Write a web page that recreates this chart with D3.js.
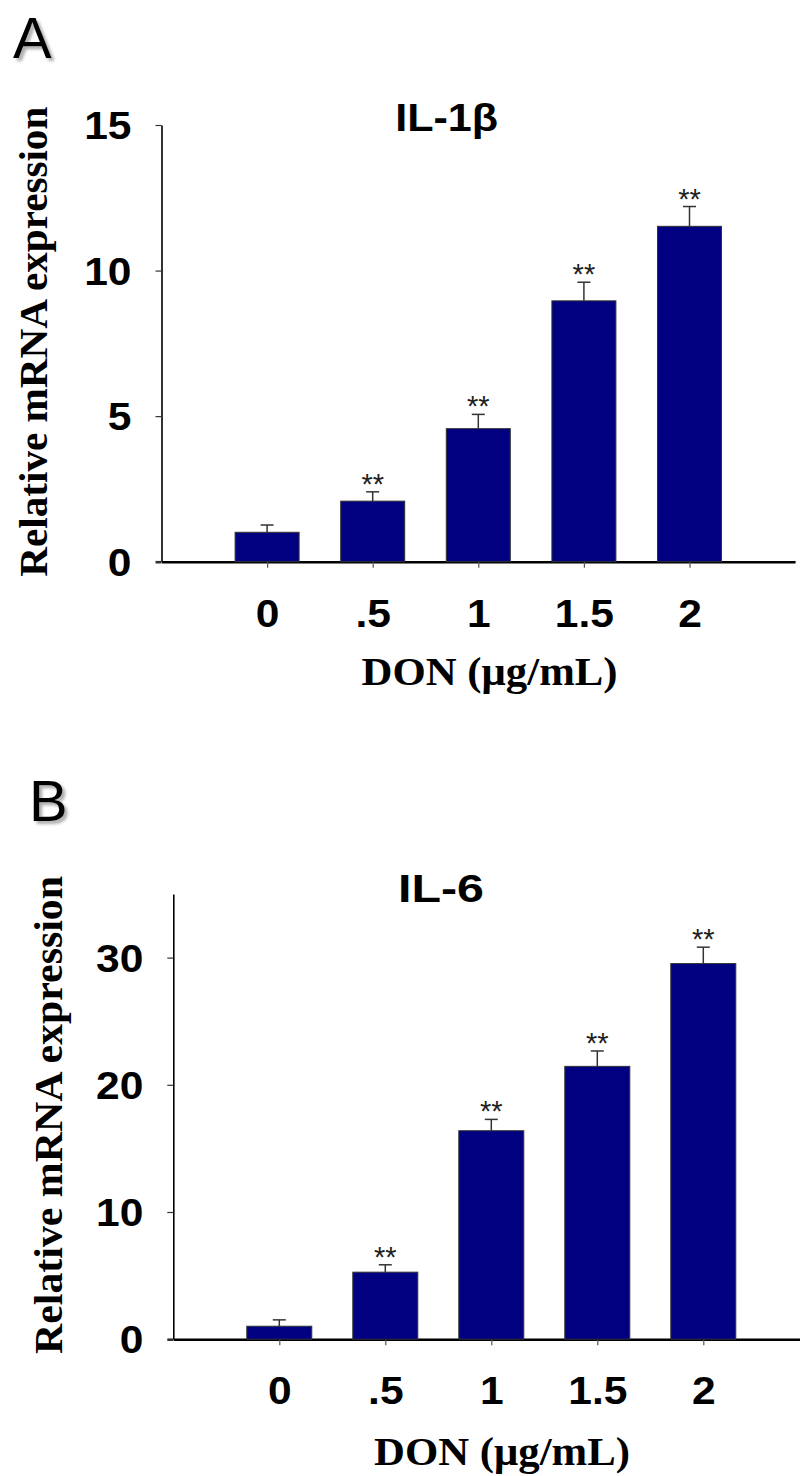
<!DOCTYPE html>
<html>
<head>
<meta charset="utf-8">
<script src="https://cdn.jsdelivr.net/npm/d3@7"></script>
<style>
  body { margin: 0; background: #fff; }
  svg { display: block; }
</style>
</head>
<body>
<svg id="chart"></svg>
<script>
(function() {

    // Data
    const doses = ['0', '.5', '1', '1.5', '2'];

    const il1b = [1.01, 2.08, 4.57, 8.96, 11.52];
    const il1bErr = [0.25, 0.32, 0.49, 0.64, 0.68];
    const il1bSig = ['', '**', '**', '**', '**'];
    const il1bTicks = [0, 5, 10, 15];

    const il6 = [1.02, 5.27, 16.39, 21.45, 29.53];
    const il6Err = [0.50, 0.58, 0.89, 1.21, 1.29];
    const il6Sig = ['', '**', '**', '**', '**'];
    const il6Ticks = [0, 10, 20, 30];

    const w = 800;
    const h = 1476;
    const stretch = 1.12; // tick labels look a bit wide in the original

    const svg = d3.select('#chart')
        .attr('width', w)
        .attr('height', h);

    // Drop shadow for the panel letters
    const filter = svg.append('defs').append('filter')
        .attr('id', 'shadow')
        .attr('x', '-20%').attr('y', '-20%')
        .attr('width', '150%').attr('height', '150%');
    filter.append('feDropShadow')
        .attr('dx', 3).attr('dy', 3)
        .attr('stdDeviation', 1.5)
        .attr('flood-color', '#777')
        .attr('flood-opacity', 0.6);

    const drawPanel = (opt) => {

        const g = svg.append('g');

        // Scales
        const y = d3.scaleLinear()
            .domain([0, opt.yMax])
            .range([opt.y0, opt.yTop]);

        // index 1..5 are the doses, 0 and 6 are empty slots
        const x = d3.scaleLinear()
            .domain([0, 6])
            .range([opt.x0, opt.x0 + 6 * opt.step]);

        const rows = opt.values.map((v, i) => ({
            cat: doses[i], i: i + 1, v: v, e: opt.errs[i], s: opt.sig[i]
        }));

        // Y axis
        const yAxis = d3.axisLeft(y)
            .tickValues(opt.ticks)
            .tickSizeInner(6)
            .tickSizeOuter(0)
            .tickPadding(0);

        const gy = g.append('g')
            .attr('transform', `translate(${opt.x0}, 0)`)
            .call(yAxis);

        gy.select('.domain').attr('stroke', '#000').attr('stroke-width', 1.6);
        gy.selectAll('.tick line')
            .attr('stroke', '#333')
            .attr('stroke-width', d => d === 0 ? 2.6 : 1.2);
        gy.selectAll('.tick text')
            .attr('font-family', '"Liberation Sans", Arial, sans-serif')
            .attr('font-weight', 'bold')
            .attr('font-size', 38)
            .attr('fill', '#000')
            .attr('x', -30 / stretch)
            .attr('dy', '0.36em')
            .attr('transform', `scale(${stretch},1)`);

        // X axis
        const xAxis = d3.axisBottom(x)
            .tickValues(d3.range(1, 6))
            .tickFormat(i => doses[i - 1])
            .tickSizeInner(6)
            .tickSizeOuter(0);

        const gx = g.append('g')
            .attr('transform', `translate(0, ${opt.y0})`)
            .call(xAxis);

        gx.select('.domain').attr('stroke', '#000').attr('stroke-width', 2.6);
        gx.selectAll('.tick line').attr('stroke', '#555').attr('stroke-width', 1.2);
        gx.selectAll('.tick text')
            .attr('font-family', '"Liberation Sans", Arial, sans-serif')
            .attr('font-weight', 'bold')
            .attr('font-size', 38)
            .attr('fill', '#000')
            .attr('y', 65)
            .attr('dy', 0)
            .attr('transform', `scale(${stretch},1)`);

        // Bars
        g.selectAll('rect.bar')
            .data(rows)
            .enter()
            .append('rect')
            .attr('class', 'bar')
            .attr('x', d => x(d.i) - opt.barW / 2)
            .attr('y', d => y(d.v))
            .attr('width', opt.barW)
            .attr('height', d => y(0) - y(d.v))
            .attr('fill', '#000080')
            .attr('stroke', '#333')
            .attr('stroke-width', 1);

        // Error bars (upper only)
        const err = g.selectAll('g.err')
            .data(rows)
            .enter()
            .append('g')
            .attr('class', 'err')
            .attr('stroke', '#333')
            .attr('stroke-width', 1.5);

        err.append('line')
            .attr('x1', d => x(d.i))
            .attr('x2', d => x(d.i))
            .attr('y1', d => y(d.v))
            .attr('y2', d => y(d.v + d.e));

        err.append('line')
            .attr('x1', d => x(d.i) - 6.5)
            .attr('x2', d => x(d.i) + 6.5)
            .attr('y1', d => y(d.v + d.e))
            .attr('y2', d => y(d.v + d.e));

        // Significance marks
        g.selectAll('text.sig')
            .data(rows)
            .enter()
            .append('text')
            .attr('class', 'sig')
            .attr('x', d => x(d.i))
            .attr('y', d => y(d.v + d.e) + 2)
            .attr('text-anchor', 'middle')
            .attr('font-family', '"Liberation Sans", Arial, sans-serif')
            .attr('font-size', 29)
            .attr('fill', '#222')
            .text(d => d.s);

        // Panel title
        g.append('text')
            .attr('x', opt.titleX)
            .attr('y', opt.titleY)
            .attr('text-anchor', 'middle')
            .attr('font-family', '"Liberation Sans", Arial, sans-serif')
            .attr('font-weight', 'bold')
            .attr('font-size', 38)
            .attr('textLength', opt.titleLen)
            .attr('lengthAdjust', 'spacingAndGlyphs')
            .text(opt.title);

        // Y axis title
        g.append('text')
            .attr('transform', `translate(${opt.yLabX}, ${opt.yLabY}) rotate(-90)`)
            .attr('text-anchor', 'middle')
            .attr('font-family', '"Liberation Serif", "Times New Roman", serif')
            .attr('font-weight', 'bold')
            .attr('font-size', 41)
            .attr('textLength', opt.yLabLen)
            .attr('lengthAdjust', 'spacingAndGlyphs')
            .text('Relative mRNA expression');

        // X axis title
        g.append('text')
            .attr('x', opt.xLabX)
            .attr('y', opt.xLabY)
            .attr('text-anchor', 'middle')
            .attr('font-family', '"Liberation Serif", "Times New Roman", serif')
            .attr('font-weight', 'bold')
            .attr('font-size', 40)
            .attr('textLength', 256)
            .attr('lengthAdjust', 'spacingAndGlyphs')
            .text('DON (μg/mL)');

        // Panel letter
        g.append('text')
            .attr('x', opt.letterX)
            .attr('y', opt.letterY)
            .attr('font-family', '"Liberation Sans", Arial, sans-serif')
            .attr('font-size', 58)
            .attr('fill', '#000')
            .attr('filter', 'url(#shadow)')
            .text(opt.letter);
    };

    // Panel A: IL-1β
    drawPanel({
        values: il1b, errs: il1bErr, sig: il1bSig, ticks: il1bTicks,
        yMax: 15, y0: 561.7, yTop: 125,
        x0: 161.5, step: 105.6, barW: 64,
        title: 'IL-1β', titleX: 446.7, titleY: 131, titleLen: 103,
        yLabX: 47, yLabY: 341.7, yLabLen: 470,
        xLabX: 489.6, xLabY: 685,
        letter: 'A', letterX: 13, letterY: 58
    });

    // Panel B: IL-6
    drawPanel({
        values: il6, errs: il6Err, sig: il6Sig, ticks: il6Ticks,
        yMax: 35, y0: 1339.2, yTop: 894,
        x0: 173.3, step: 106, barW: 65,
        title: 'IL-6', titleX: 441, titleY: 902, titleLen: 86,
        yLabX: 62, yLabY: 1115, yLabLen: 478,
        xLabX: 502, xLabY: 1465,
        letter: 'B', letterX: 29, letterY: 821
    });

})();
</script>
</body>
</html>
